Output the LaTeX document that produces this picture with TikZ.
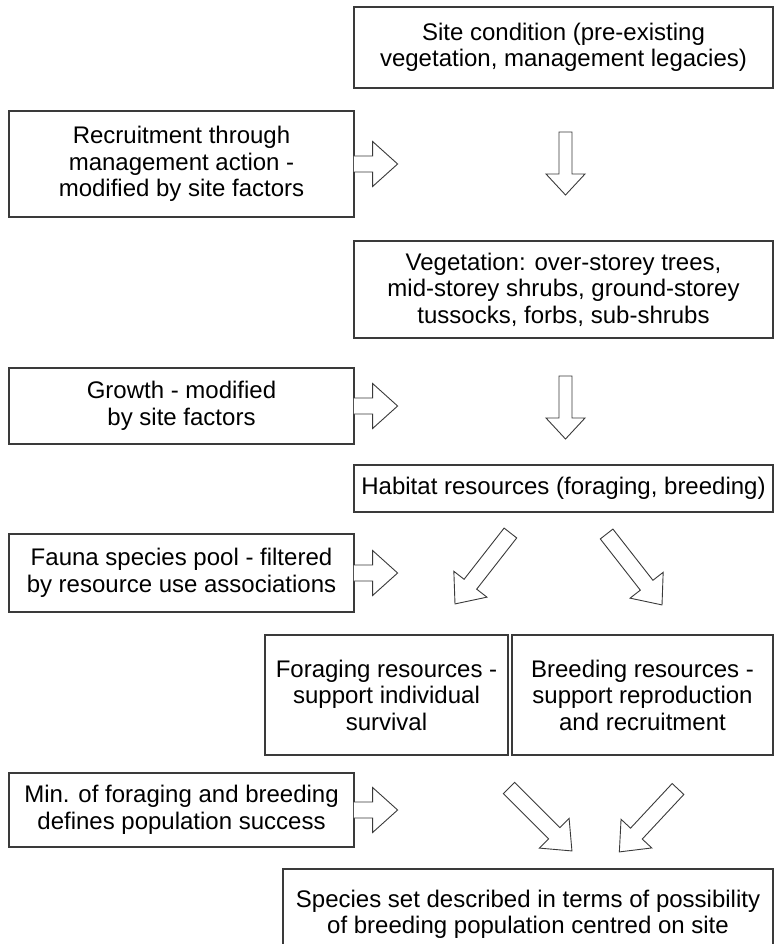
\documentclass[tikz,border=0pt]{standalone}
\usepackage{fontspec}
\setmainfont{Liberation Sans}
\usetikzlibrary{positioning,calc}
\definecolor{boxline}{HTML}{3A3A3A}

\begin{document}
\begin{tikzpicture}[x=1pt, y=-1pt,
  blk/.style={rectangle, draw=boxline, fill=white, line width=1.2pt, align=center,
    font=\fontsize{24}{26.5}\selectfont, inner sep=0pt},
  arr/.style={draw=boxline, fill=white, line width=0.9pt, line join=miter},
  pics/fatarrow/.style n args={4}{code={
    \draw[arr] (0,#2) -- ({#1-#4},#2) -- ({#1-#4},#3) -- (#1,0) -- ({#1-#4},-#3) -- ({#1-#4},-#2) -- (0,-#2) -- cycle;}}
]
\useasboundingbox (0,0) rectangle (774,944);

% right column: what is on the site
\node[blk, minimum width=419pt, minimum height=81pt] (site) at (563.5,47.5)
  {Site condition (pre-existing\\vegetation, management legacies)};
\node[blk, minimum width=419pt, minimum height=97pt] (veg) at (563.5,289.5)
  {Vegetation: over-storey trees,\\mid-storey shrubs, ground-storey\\tussocks, forbs, sub-shrubs};
\node[blk, minimum width=419pt, minimum height=47pt] (habitat) at (563.5,488.5)
  {Habitat resources (foraging, breeding)};
\node[blk, minimum width=243pt, minimum height=120pt] (forage) at (386.5,695)
  {Foraging resources -\\support individual\\survival};
\node[blk, minimum width=261pt, minimum height=120pt] (breed) at (642.5,695)
  {Breeding resources -\\support reproduction\\and recruitment};
\node[blk, minimum width=490pt, minimum height=91pt] (species) at (528,914.5)
  {Species set described in terms of possibility\\of breeding population centred on site};

% left column: processes
\node[blk, minimum width=345pt, minimum height=106pt] (recruit) at (181.5,164)
  {Recruitment through\\management action -\\modified by site factors};
\node[blk, minimum width=345pt, minimum height=76pt] (growth) at (181.5,406)
  {Growth - modified\\by site factors};
\node[blk, minimum width=345pt, minimum height=78pt] (fauna) at (181.5,573)
  {Fauna species pool - filtered\\by resource use associations};
\node[blk, minimum width=345pt, minimum height=74pt] (minpop) at (181.5,810)
  {Min. of foraging and breeding\\defines population success};

% arrows out of the process boxes
\foreach \src in {recruit,growth,fauna,minpop}
  \draw[arr] ([xshift=-0.8pt,yshift=8pt]\src.east) -- ++(18.8,0) -- ++(0,-14.5) -- ++(25,22.5)
    -- ++(-25,22.5) -- ++(0,-14.5) -- ++(-18.8,0);

% block arrows down the right column
\coordinate (d1) at (565.5,132);
\coordinate (d2) at (565.5,376);
\coordinate (h1) at (510.4,533);
\coordinate (h2) at (606.6,534);
\coordinate (s1) at (509,788);
\coordinate (s2) at (678,789);
\pic[rotate=-90] at (d1) {fatarrow={63}{6.5}{19.5}{21}};
\pic[rotate=-90] at (d2) {fatarrow={63}{6.5}{19.5}{21}};
\pic[rotate=232] at (h1) {fatarrow={90}{8}{21}{25}};
\pic[rotate=-52] at (h2) {fatarrow={90}{8}{21}{25}};
\pic[rotate=-45] at (s1) {fatarrow={89}{8}{21}{25}};
\pic[rotate=227] at (s2) {fatarrow={86}{8}{21}{25}};
\end{tikzpicture}
\end{document}
